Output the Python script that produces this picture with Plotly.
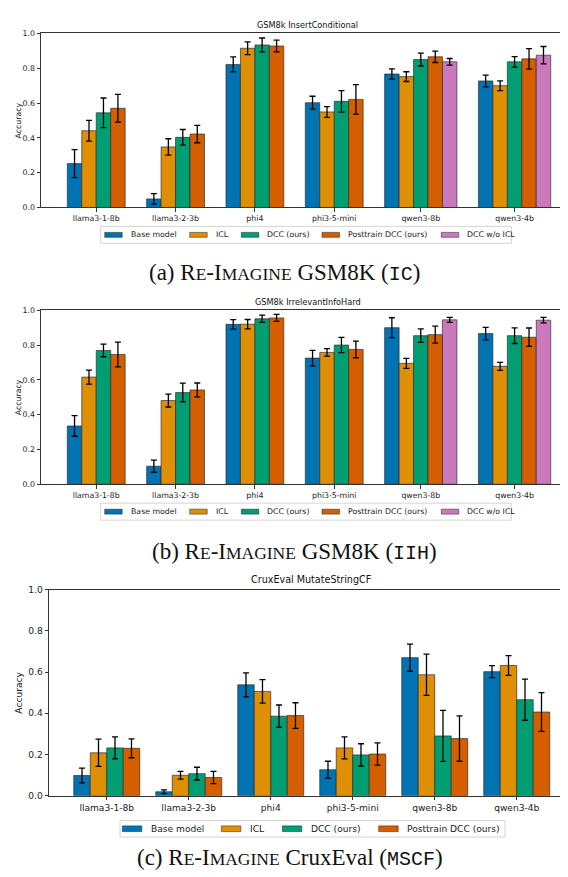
import plotly.graph_objects as go

# ---------------- data ----------------
models = ["llama3-1-8b", "llama3-2-3b", "phi4", "phi3-5-mini", "qwen3-8b", "qwen3-4b"]
series = ["Base model", "ICL", "DCC (ours)", "Posttrain DCC (ours)", "DCC w/o ICL"]
colors = ["#0173b2", "#de8f05", "#029e73", "#d55e00", "#cc78bc"]

# Panel (a) GSM8k InsertConditional
ic_vals = {
    "Base model":           [0.252, 0.049, 0.822, 0.602, 0.767, 0.727],
    "ICL":                  [0.441, 0.348, 0.915, 0.549, 0.752, 0.700],
    "DCC (ours)":           [0.544, 0.403, 0.934, 0.610, 0.850, 0.837],
    "Posttrain DCC (ours)": [0.570, 0.422, 0.928, 0.621, 0.866, 0.854],
    "DCC w/o ICL":          [None, None, None, None, 0.837, 0.875],
}
ic_errs = {
    "Base model":           [0.080, 0.030, 0.043, 0.037, 0.030, 0.034],
    "ICL":                  [0.060, 0.047, 0.037, 0.031, 0.028, 0.028],
    "DCC (ours)":           [0.085, 0.045, 0.040, 0.062, 0.037, 0.030],
    "Posttrain DCC (ours)": [0.080, 0.050, 0.034, 0.085, 0.033, 0.059],
    "DCC w/o ICL":          [None, None, None, None, 0.019, 0.050],
}

# Panel (b) GSM8k IrrelevantInfoHard
iih_vals = {
    "Base model":           [0.335, 0.104, 0.919, 0.725, 0.900, 0.866],
    "ICL":                  [0.616, 0.481, 0.920, 0.758, 0.695, 0.678],
    "DCC (ours)":           [0.769, 0.527, 0.951, 0.800, 0.854, 0.854],
    "Posttrain DCC (ours)": [0.746, 0.542, 0.956, 0.775, 0.860, 0.845],
    "DCC w/o ICL":          [None, None, None, None, 0.945, 0.943],
}
iih_errs = {
    "Base model":           [0.059, 0.035, 0.027, 0.045, 0.057, 0.036],
    "ICL":                  [0.040, 0.037, 0.027, 0.021, 0.029, 0.023],
    "DCC (ours)":           [0.036, 0.054, 0.021, 0.044, 0.039, 0.045],
    "Posttrain DCC (ours)": [0.071, 0.040, 0.020, 0.048, 0.049, 0.053],
    "DCC w/o ICL":          [None, None, None, None, 0.014, 0.016],
}

# Panel (c) CruxEval MutateStringCF
mscf_vals = {
    "Base model":           [0.098, 0.019, 0.538, 0.126, 0.670, 0.602],
    "ICL":                  [0.208, 0.099, 0.506, 0.232, 0.587, 0.632],
    "DCC (ours)":           [0.232, 0.107, 0.386, 0.198, 0.290, 0.466],
    "Posttrain DCC (ours)": [0.230, 0.088, 0.389, 0.202, 0.277, 0.406],
}
mscf_errs = {
    "Base model":           [0.036, 0.009, 0.058, 0.041, 0.066, 0.029],
    "ICL":                  [0.066, 0.019, 0.057, 0.053, 0.100, 0.048],
    "DCC (ours)":           [0.053, 0.031, 0.054, 0.054, 0.124, 0.100],
    "Posttrain DCC (ours)": [0.046, 0.030, 0.062, 0.054, 0.110, 0.094],
}

y_ticks = [0.0, 0.2, 0.4, 0.6, 0.8, 1.0]

W, H = 568, 877

sc = "font-size:17.5px"
mono = "font-family:Liberation Mono;font-size:20px"
captions = [
    f"(a) R<span style='{sc}'>E</span>-I<span style='{sc}'>MAGINE</span> GSM8K (<span style='{mono}'>IC</span>)",
    f"(b) R<span style='{sc}'>E</span>-I<span style='{sc}'>MAGINE</span> GSM8K (<span style='{mono}'>IIH</span>)",
    f"(c) R<span style='{sc}'>E</span>-I<span style='{sc}'>MAGINE</span> CruxEval (<span style='{mono}'>MSCF</span>)",
]

# layout (pixel) specs per panel
panels = [
    dict(title="GSM8k InsertConditional", vals=ic_vals, errs=ic_errs,
         px_x=(33, 566), px_y=(20.7, 196.7), gap=1.487, lpad=1.82, rpad=1.61,
         fs=7.8, tfs=8.2, title_y=12, ytitle_x=10, cap_y=263, cap_x=276,
         leg_box=(92.7, 503.3, 215.8, 233.0), leg_icon_x=[96.7, 181.7, 233.3, 314.0, 433.3],
         icon_w=17.5, icon_h=5.0, text_dx=24.0),
    dict(title="GSM8k IrrelevantInfoHard", vals=iih_vals, errs=iih_errs,
         px_x=(33, 566), px_y=(300.7, 476.7), gap=1.487, lpad=1.82, rpad=1.61,
         fs=7.8, tfs=8.2, title_y=292, ytitle_x=10, cap_y=545, cap_x=286,
         leg_box=(92.7, 503.3, 495.8, 513.0), leg_icon_x=[96.7, 181.7, 233.3, 314.0, 433.3],
         icon_w=17.5, icon_h=5.0, text_dx=24.0),
    dict(title="CruxEval MutateStringCF", vals=mscf_vals, errs=mscf_errs,
         px_x=(41, 565), px_y=(583.3, 791.7), gap=0.97, lpad=1.5, rpad=1.41,
         fs=9.1, tfs=9.6, title_y=573, ytitle_x=11, cap_y=855, cap_x=282,
         leg_box=(112.0, 497.0, 816.8, 833.5), leg_icon_x=[114.3, 213.3, 274.3, 370.7],
         icon_w=19.5, icon_h=5.8, text_dx=26.5),
]

fig = go.Figure()
annotations = []
shapes = []
layout = {}


def px(xp):
    return xp / W


def py(yp):
    return 1 - yp / H


for p_i, p in enumerate(panels):
    ax_sfx = "" if p_i == 0 else str(p_i + 1)
    xa, ya = "x" + ax_sfx, "y" + ax_sfx
    present = [s for s in series if s in p["vals"]]
    counts = [sum(1 for s in present if p["vals"][s][m] is not None) for m in range(len(models))]
    starts, pos = [], 0.0
    for c in counts:
        starts.append(pos)
        pos += c + p["gap"]
    total_end = pos - p["gap"]
    centers = [starts[m] + counts[m] / 2 for m in range(len(models))]

    for s_i, s in enumerate(present):
        xs, ys, es = [], [], []
        for m in range(len(models)):
            v = p["vals"][s][m]
            if v is None:
                continue
            j = sum(1 for t in present[:s_i] if p["vals"][t][m] is not None)
            xs.append(starts[m] + j + 0.5)
            ys.append(v)
            es.append(p["errs"][s][m])
        fig.add_trace(go.Bar(
            x=xs, y=ys, width=1.0, name=s,
            xaxis=xa, yaxis=ya, showlegend=False,
            marker=dict(color=colors[series.index(s)],
                        line=dict(color="rgba(40,40,40,0.65)", width=1)),
            error_y=dict(type="data", array=es, color="black", thickness=1.3, width=3),
        ))

    x0, x1 = p["px_x"]
    yt, yb = p["px_y"]
    axis_common = dict(showline=True, linecolor="#333333", linewidth=1, mirror=True,
                       ticks="outside", ticklen=3.5, tickcolor="#333333", tickwidth=1,
                       showgrid=False, zeroline=False,
                       tickfont=dict(family="DejaVu Sans", size=p["fs"], color="#222222"))
    layout["xaxis" + ax_sfx] = dict(
        domain=[px(x0), px(x1)], anchor=ya,
        range=[-p["lpad"], total_end + p["rpad"]],
        tickmode="array", tickvals=centers, ticktext=models, **axis_common)
    layout["yaxis" + ax_sfx] = dict(
        domain=[py(yb), py(yt)], anchor=xa, range=[0, 1],
        tickmode="array", tickvals=y_ticks, ticktext=[f"{t:.1f}" for t in y_ticks],
        **axis_common)

    # legend (matplotlib-style box below the axes)
    bx0, bx1, by0, by1 = p["leg_box"]
    shapes.append(dict(type="rect", xref="paper", yref="paper",
                       x0=px(bx0), x1=px(bx1), y0=py(by1), y1=py(by0),
                       line=dict(color="#d4d4d4", width=1), fillcolor="white", layer="above"))
    ymid = (by0 + by1) / 2
    for s_i, s in enumerate(present):
        ix = p["leg_icon_x"][s_i]
        shapes.append(dict(type="rect", xref="paper", yref="paper",
                           x0=px(ix), x1=px(ix + p["icon_w"]),
                           y0=py(ymid + p["icon_h"] / 2), y1=py(ymid - p["icon_h"] / 2),
                           line=dict(color="rgba(40,40,40,0.65)", width=0.8),
                           fillcolor=colors[series.index(s)], layer="above"))
        annotations.append(dict(
            text=s, x=px(ix + p["text_dx"]), y=py(ymid), xref="paper", yref="paper",
            showarrow=False, xanchor="left", yanchor="middle",
            font=dict(family="DejaVu Sans", size=p["fs"], color="#222222")))

    annotations.append(dict(
        text=p["title"], x=px((x0 + x1) / 2), y=py(p["title_y"]),
        xref="paper", yref="paper", showarrow=False, xanchor="center", yanchor="middle",
        font=dict(family="DejaVu Sans", size=p["tfs"], color="#111111")))
    annotations.append(dict(
        text="Accuracy", x=px(p["ytitle_x"]), y=py((yt + yb) / 2), textangle=-90,
        xref="paper", yref="paper", showarrow=False, xanchor="center", yanchor="middle",
        font=dict(family="DejaVu Sans", size=p["fs"], color="#111111")))
    annotations.append(dict(
        text=captions[p_i], x=px(p["cap_x"]), y=py(p["cap_y"]),
        xref="paper", yref="paper", showarrow=False, xanchor="center", yanchor="middle",
        font=dict(family="Liberation Serif", size=23, color="#111111")))

fig.update_layout(
    width=W, height=H, margin=dict(l=0, r=0, t=0, b=0),
    paper_bgcolor="white", plot_bgcolor="white", showlegend=False,
    barmode="overlay", annotations=annotations, shapes=shapes, **layout,
)

fig.write_html("out.html")
